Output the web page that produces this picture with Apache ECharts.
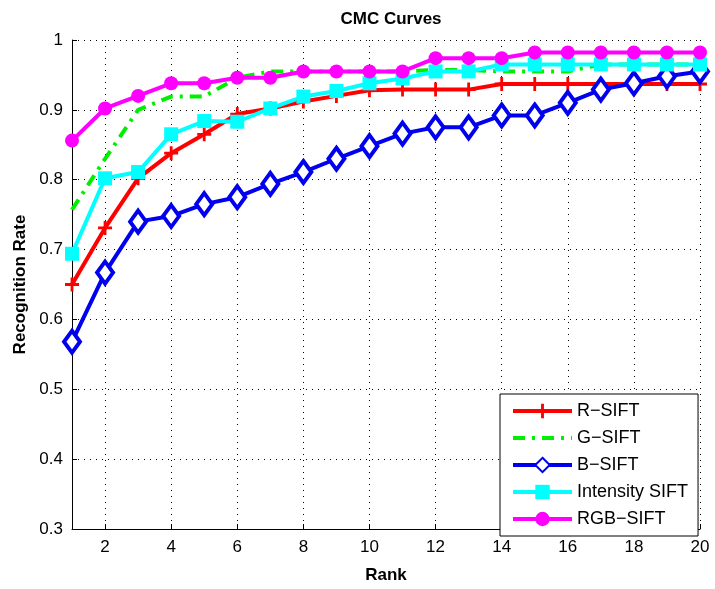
<!DOCTYPE html>
<html>
<head>
<meta charset="utf-8">
<script src="https://cdn.jsdelivr.net/npm/echarts@6/dist/echarts.min.js"></script>
<style>html,body{margin:0;padding:0;background:#fff;}#c{width:715px;height:589px;}</style>
</head>
<body>
<div id="c"></div>
<script>
const ranks = ['1','2','3','4','5','6','7','8','9','10','11','12','13','14','15','16','17','18','19','20'];
const rSift = [0.650,0.731,0.802,0.838,0.865,0.894,0.902,0.912,0.920,0.928,0.929,0.929,0.929,0.937,0.937,0.937,0.937,0.937,0.937,0.937];
const gSift = [0.757,0.830,0.900,0.919,0.919,0.946,0.955,0.955,0.955,0.955,0.955,0.957,0.957,0.955,0.955,0.955,0.965,0.965,0.965,0.965];
const bSift = [0.568,0.667,0.740,0.748,0.765,0.775,0.794,0.811,0.830,0.848,0.866,0.875,0.875,0.892,0.892,0.910,0.929,0.938,0.948,0.955];
const intensitySift = [0.694,0.802,0.811,0.865,0.884,0.883,0.902,0.919,0.927,0.938,0.945,0.955,0.955,0.965,0.965,0.965,0.965,0.965,0.965,0.965];
const rgbSift = [0.856,0.902,0.920,0.938,0.938,0.946,0.946,0.955,0.955,0.955,0.955,0.974,0.974,0.974,0.982,0.982,0.982,0.982,0.982,0.982];
const seriesNames = ['R\u2212SIFT','G\u2212SIFT','B\u2212SIFT','Intensity SIFT','RGB\u2212SIFT'];

const FONT = 'Liberation Sans, Arial, Helvetica, sans-serif';
const plus = 'path://M4,0 H6 V4 H10 V6 H6 V10 H4 V6 H0 V4 H4 Z';
const evenOnly = (i) => i % 2 === 1;

const chart = echarts.init(document.getElementById('c'), null, {renderer: 'canvas'});
chart.setOption({
  animation: false,
  backgroundColor: '#fff',
  title: {
    text: 'CMC Curves', left: 386, top: 6, textAlign: 'center',
    textStyle: {fontFamily: FONT, fontWeight: 'bold', fontSize: 17, color: '#000'}
  },
  grid: {left: 72, right: 15, top: 40, bottom: 54, containLabel: false},
  legend: {
    orient: 'vertical', left: 500, top: 394,
    padding: [8, 10, 8, 11], itemWidth: 59, itemHeight: 18, itemGap: 9,
    borderColor: '#000', borderWidth: 1, backgroundColor: '#fff', borderRadius: 0,
    lineStyle: {width: 4},
    textStyle: {fontFamily: FONT, fontSize: 18, color: '#000'},
    data: seriesNames
  },
  xAxis: {
    type: 'category', data: ranks, boundaryGap: false,
    name: 'Rank', nameLocation: 'middle', nameGap: 38,
    nameTextStyle: {fontFamily: FONT, fontWeight: 'bold', fontSize: 17, color: '#000'},
    axisLine: {lineStyle: {color: '#000', width: 1}},
    axisTick: {inside: true, length: 5, interval: evenOnly, lineStyle: {color: '#000'}},
    axisLabel: {interval: evenOnly, margin: 10, fontFamily: FONT, fontSize: 17, color: '#000'},
    splitLine: {show: true, interval: evenOnly, lineStyle: {color: '#000', type: [1, 5], width: 1}}
  },
  yAxis: {
    type: 'value', min: 0.3, max: 1, interval: 0.1,
    name: 'Recognition Rate', nameLocation: 'middle', nameGap: 43,
    nameTextStyle: {fontFamily: FONT, fontWeight: 'bold', fontSize: 17, color: '#000'},
    axisLine: {show: true, lineStyle: {color: '#000', width: 1}},
    axisTick: {show: true, inside: true, length: 5, lineStyle: {color: '#000'}},
    axisLabel: {margin: 9, fontFamily: FONT, fontSize: 17, color: '#000',
      formatter: (v) => (Math.abs(v - 1) < 1e-9 ? '1' : v.toFixed(1))},
    splitLine: {show: true, lineStyle: {color: '#000', type: [1, 5], width: 1}}
  },
  series: [
    {name: seriesNames[0], type: 'line', data: rSift, symbol: plus, symbolSize: 14, showAllSymbol: true,
     lineStyle: {color: '#ff0000', width: 4}, itemStyle: {color: '#ff0000'}},
    {name: seriesNames[1], type: 'line', data: gSift, symbol: 'circle', symbolSize: 1, showAllSymbol: true,
     lineStyle: {color: '#00ee00', width: 4, type: [12, 7, 3, 7]},
     itemStyle: {color: 'rgba(0,0,0,0)', borderWidth: 0}},
    {name: seriesNames[2], type: 'line', data: bSift, symbol: 'diamond', symbolSize: [16, 22], showAllSymbol: true,
     lineStyle: {color: '#0000ee', width: 4},
     itemStyle: {color: '#ffffff', borderColor: '#0000ee', borderWidth: 4}},
    {name: seriesNames[3], type: 'line', data: intensitySift, symbol: 'rect', symbolSize: 14, showAllSymbol: true,
     lineStyle: {color: '#00ffff', width: 4}, itemStyle: {color: '#00ffff'}},
    {name: seriesNames[4], type: 'line', data: rgbSift, symbol: 'circle', symbolSize: 14, showAllSymbol: true,
     lineStyle: {color: '#ff00ff', width: 4}, itemStyle: {color: '#ff00ff'}}
  ]
});
</script>
</body>
</html>
